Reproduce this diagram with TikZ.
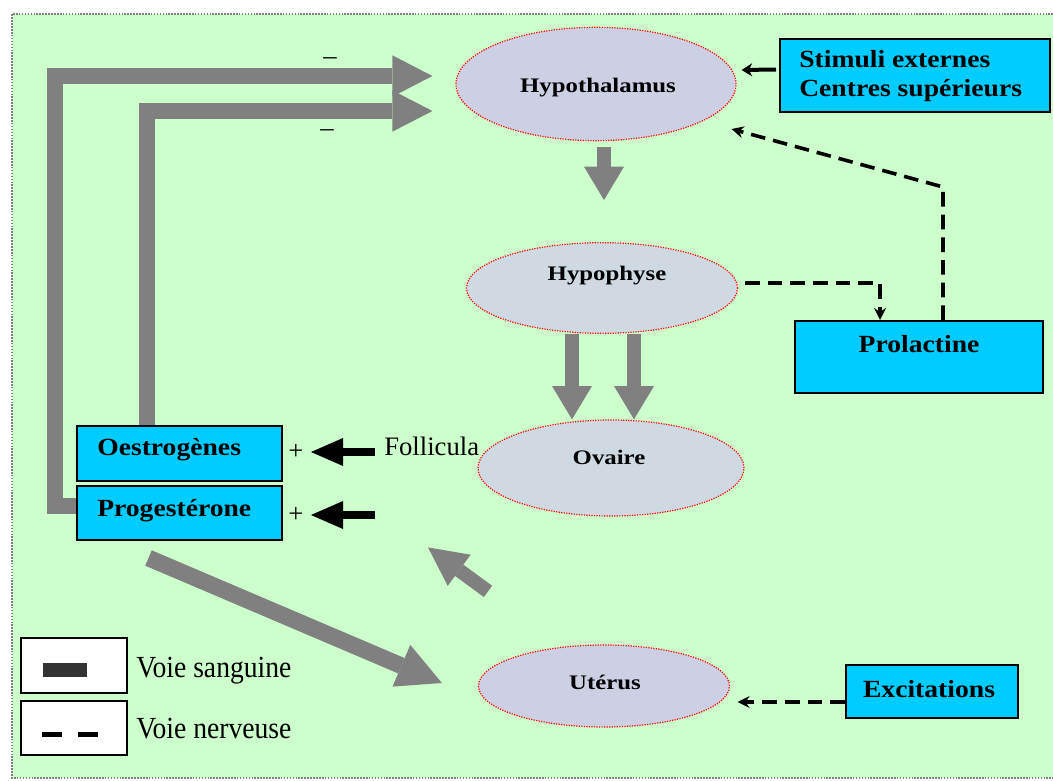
\documentclass[tikz,border=0pt]{standalone}
\usepackage{fontspec}
\usepackage{graphicx}
\setmainfont{Liberation Serif}
\usetikzlibrary{shapes.geometric,arrows.meta,calc}
\definecolor{bggreen}{HTML}{CCFFCC}
\definecolor{boxblue}{HTML}{00CCFF}
\definecolor{ellA}{HTML}{CDCFE3}
\definecolor{ellB}{HTML}{CFD9E1}
\definecolor{arrgray}{HTML}{808080}
\definecolor{legdark}{HTML}{333333}
\newcommand\ellab[1]{\scalebox{1.2}[1]{\fontsize{15.5}{18}\selectfont\bfseries #1}}
\newcommand\boxlab[1]{\scalebox{1.12}[1]{\fontsize{18.5}{21}\selectfont\bfseries #1}}
\newcommand\plainlab[1]{\scalebox{0.9}[1]{\fontsize{23}{26}\selectfont #1}}
\tikzset{
  organ/.style={ellipse, draw=red, densely dotted, line width=0.9pt, inner sep=0pt},
  bluebox/.style={rectangle, draw=black, line width=1.5pt, fill=boxblue, inner sep=0pt},
  legbox/.style={rectangle, draw=black, line width=1.5pt, fill=white, inner sep=0pt, minimum width=79.5pt},
  lbl/.style={inner sep=0pt, anchor=base},
  lblw/.style={inner sep=0pt, anchor=base west},
  fbarrow/.style={draw=arrgray, line width=11.5pt, -{Triangle[width=31pt,length=30pt,line width=0pt]}},
  downarrow/.style={draw=arrgray, line width=10pt, -{Triangle[width=30pt,length=25pt,line width=0pt]}},
  diagarrow/.style={draw=arrgray, line width=12.5pt, -{Triangle[width=34pt,length=33pt,line width=0pt]}},
  smallarrow/.style={draw=arrgray, line width=10.5pt, -{Triangle[width=29pt,length=29pt,line width=0pt]}},
  plusarrow/.style={draw=black, line width=6.5pt, -{Triangle[width=21pt,length=24pt,line width=0pt]}},
  nerve/.style={draw=black, line width=2.7pt, dash pattern=on 11pt off 6pt, -{Stealth[length=9pt,width=9pt,line width=0pt]}},
  stimarrow/.style={draw=black, line width=3pt, -{Stealth[length=8pt,width=10pt,line width=0pt]}},
  sign/.style={inner sep=0pt, font=\fontsize{20}{22}\selectfont}
}
\begin{document}
\begin{tikzpicture}[x=0.75pt,y=-0.75pt]
\useasboundingbox (0,0) rectangle (1053,781);
% background
\fill[white] (0,0) rectangle (1053,781);
\fill[bggreen] (12,14) rectangle (1053,778);
\draw[gray, densely dotted, line width=1.2pt] (1053,14) -- (12,14) -- (12,778) -- (1053,778);

% organs
\node[organ, fill=ellA, minimum width=210pt, minimum height=85pt] (hypoth) at (596,84) {};
\node[organ, fill=ellB, minimum width=203.25pt, minimum height=68pt] (hypoph) at (602,288) {};
\node[organ, fill=ellB, minimum width=199.5pt, minimum height=72pt] (ovaire) at (611,468) {};
\node[organ, fill=ellA, minimum width=188.25pt, minimum height=61.5pt] (uterus) at (604,686) {};
\node[lbl] (hypothT) at (598,93) {\ellab{Hypothalamus}};
\node[lbl] (hypophT) at (607,280) {\ellab{Hypophyse}};
\node[lbl] (ovaireT) at (609,464) {\ellab{Ovaire}};
\node[lbl] (uterusT) at (605,689) {\ellab{Utérus}};

% boxes
\node[bluebox, minimum width=202.5pt, minimum height=54.75pt] (stim) at (915,75.5) {};
\node[lblw] (stimT1) at (799,68) {\boxlab{Stimuli externes}};
\node[lblw] (stimT2) at (799,97) {\boxlab{Centres supérieurs}};
\node[bluebox, minimum width=186pt, minimum height=54pt] (prol) at (919,357) {};
\node[lbl] (prolT) at (919,352) {\boxlab{Prolactine}};
\node[bluebox, minimum width=129pt, minimum height=39.75pt] (exc) at (932,691.5) {};
\node[lbl] (excT) at (929,697) {\boxlab{Excitations}};
\node[bluebox, minimum width=153.75pt, minimum height=41.25pt] (oest) at (179.5,453.5) {};
\node[lblw] (oestT) at (97,455) {\boxlab{Oestrogènes}};
\node[bluebox, minimum width=153.75pt, minimum height=40.5pt] (prog) at (179.5,513) {};
\node[lblw] (progT) at (97,516) {\boxlab{Progestérone}};

\node[lblw] (foll) at (384,455) {\fontsize{20}{24}\selectfont Follicula};

% feedback (blood) arrows
\coordinate (fbA) at ($(hypoth.west)+(-23,-8)$);
\coordinate (fbB) at ($(hypoth.west)+(-23,27)$);
\draw[fbarrow] ($(prog.west)+(0,-7)$) -- ++(-21,0) |- (fbA);
\draw[fbarrow] ($(oest.north)+(-32.5,0)$) |- (fbB);
\node[sign] (minus1) at (330,61) {–};
\node[sign] (minus2) at (327,133) {–};

\draw[downarrow] ($(hypoth.south)+(8,6)$) -- ($(hypoph.north)+(2,-42)$);
\draw[downarrow] ($(hypoph.south)+(-30,0)$) -- ($(ovaire.north)+(-39,0)$);
\draw[downarrow] ($(hypoph.south)+(32,0)$) -- ($(ovaire.north)+(23,0)$);
\draw[diagarrow] ($(prog.south)+(-31,17)$) -- ($(uterus.west)+(-36,-3)$);
\coordinate (utTail) at ($(uterus.north)+(-116,-53)$);
\coordinate (ovTip) at ($(uterus.north)+(-176,-97)$);
\draw[smallarrow] (utTail) -- (ovTip);

% plus arrows
\coordinate (plA) at (375,452);
\coordinate (plB) at (375,515);
\draw[plusarrow] (plA) -- ($(oest.east)+(28,-1.5)$);
\draw[plusarrow] (plB) -- ($(prog.east)+(28,2)$);
\node[sign] (plus1) at (296,452) {+};
\node[sign] (plus2) at (296,515) {+};

% nerve paths
\draw[stimarrow] ($(stim.west)+(-3,-6)$) -- ($(hypoth.east)+(5,-14)$);
\draw[nerve] ($(hypoph.east)+(7,-5)$) -| ($(prol.north)+(-39,0)$);
\coordinate (dsTip) at ($(hypoth.east)+(-5,45)$);
\draw[nerve] ($(prol.north)+(24,0)$) -- ++(0,-133) -- (dsTip);
\draw[nerve] ($(exc.west)+(0,10.5)$) -- ($(uterus.east)+(7.5,16)$);

% legend
\node[legbox, minimum height=41.25pt] (leg1) at (74,665.5) {};
\node[legbox, minimum height=40.5pt] (leg2) at (74,728) {};
\fill[legdark] (43,663) rectangle (87,677);
\draw[black, line width=3.75pt] (42,734) -- (62,734);
\draw[black, line width=3.75pt] (78,734) -- (98,734);
\node[lblw] (legT1) at (136,677) {\plainlab{Voie sanguine}};
\node[lblw] (legT2) at (136,738) {\plainlab{Voie nerveuse}};
\end{tikzpicture}
\end{document}
